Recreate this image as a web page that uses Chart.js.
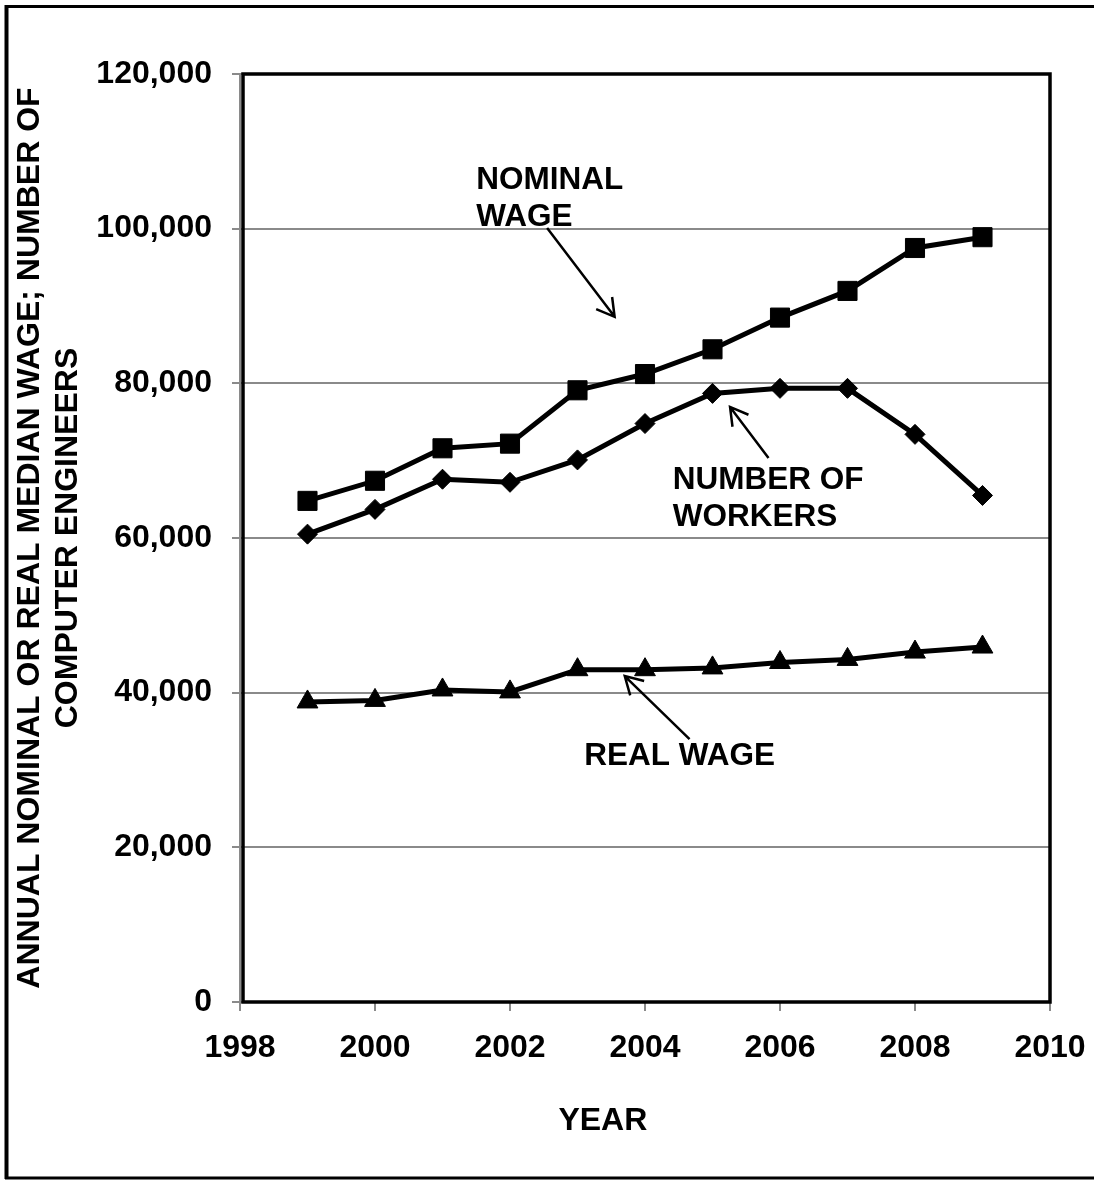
<!DOCTYPE html>
<html>
<head>
<meta charset="utf-8">
<script src="https://cdn.jsdelivr.net/npm/chart.js@4.4.0/dist/chart.umd.min.js"></script>
<style>
  html, body { margin: 0; padding: 0; background: #fff; }
  canvas { display: block; }
</style>
</head>
<body>
<canvas id="myChart" width="1094" height="1180"></canvas>
<script>
// Datos
const years = [1999, 2000, 2001, 2002, 2003, 2004, 2005, 2006, 2007, 2008, 2009];
const nominalWage = [64800, 67400, 71600, 72200, 79100, 81200, 84400, 88500, 91950, 97500, 98900];
const numberOfWorkers = [60500, 63700, 67600, 67200, 70100, 74800, 78700, 79350, 79350, 73400, 65500];
const realWage = [38800, 39000, 40350, 40100, 42970, 42970, 43200, 43900, 44300, 45250, 45900];

const yTitle = ['ANNUAL NOMINAL OR REAL MEDIAN WAGE; NUMBER OF', 'COMPUTER ENGINEERS'];
const xTitle = 'YEAR';
const seriesNames = ['NOMINAL WAGE', 'NUMBER OF WORKERS', 'REAL WAGE'];

const FONT = "'Liberation Sans', Arial, Helvetica, sans-serif";
const GRID = '#8a8a8a';

// Función para armar una serie (línea negra con marcadores)
function serie(label, values, style, radius) {
  return {
    label: label,
    data: years.map((y, i) => ({ x: y, y: values[i] })),
    borderColor: '#000',
    backgroundColor: '#000',
    borderWidth: 5,
    pointStyle: style,
    pointRadius: radius,
    pointHoverRadius: radius,
    pointBorderWidth: 1,
    tension: 0
  };
}

// Flechas con punta abierta
function drawArrow(ctx, x1, y1, x2, y2) {
  const ang = Math.atan2(y2 - y1, x2 - x1);
  const head = 20;
  ctx.beginPath();
  ctx.moveTo(x1, y1);
  ctx.lineTo(x2, y2);
  ctx.moveTo(x2 - head * Math.cos(ang - Math.PI / 6), y2 - head * Math.sin(ang - Math.PI / 6));
  ctx.lineTo(x2, y2);
  ctx.lineTo(x2 - head * Math.cos(ang + Math.PI / 6), y2 - head * Math.sin(ang + Math.PI / 6));
  ctx.stroke();
}

// Marco exterior, borde del área y anotaciones
const decoPlugin = {
  id: 'deco',
  beforeDraw(chart) {
    const ctx = chart.ctx;
    ctx.save();
    ctx.fillStyle = '#fff';
    ctx.fillRect(0, 0, chart.width, chart.height);
    ctx.strokeStyle = '#000';
    ctx.lineWidth = 4;
    ctx.beginPath();
    ctx.moveTo(6.5, 5);
    ctx.lineTo(6.5, 1179);
    ctx.stroke();
    ctx.lineWidth = 3;
    ctx.beginPath();
    ctx.moveTo(5, 6.5);
    ctx.lineTo(chart.width, 6.5);
    ctx.moveTo(5, 1178);
    ctx.lineTo(chart.width, 1178);
    ctx.stroke();
    ctx.restore();
  },
  beforeDatasetsDraw(chart) {
    const { ctx, chartArea: a } = chart;
    ctx.save();
    ctx.strokeStyle = '#000';
    ctx.lineWidth = 3.5;
    ctx.strokeRect(a.left + 3, a.top, a.right - a.left - 3, a.bottom - a.top);
    ctx.restore();
  },
  afterDraw(chart) {
    const { ctx, chartArea: a } = chart;
    const xs = chart.scales.x, ys = chart.scales.y;
    const px = v => xs.getPixelForValue(v);
    const py = v => ys.getPixelForValue(v);
    const notes = [
      { lines: ['NOMINAL', 'WAGE'], at: [2001.5, 106300], from: [2002.55, 100100], to: [2003.55, 88600] },
      { lines: ['NUMBER OF', 'WORKERS'], at: [2004.41, 67400], from: [2005.83, 70350], to: [2005.26, 76950] },
      { lines: ['REAL WAGE'], at: [2003.1, 31800], from: [2004.66, 34000], to: [2003.7, 42150] }
    ];
    ctx.save();
    ctx.fillStyle = '#000';
    ctx.strokeStyle = '#000';
    ctx.font = 'bold 31.5px ' + FONT;
    ctx.textAlign = 'left';
    ctx.textBaseline = 'middle';
    ctx.lineWidth = 2.5;
    notes.forEach(n => {
      n.lines.forEach((t, i) => ctx.fillText(t, px(n.at[0]), py(n.at[1]) + i * 37));
      drawArrow(ctx, px(n.from[0]), py(n.from[1]), px(n.to[0]), py(n.to[1]));
    });
    // Título del eje X
    ctx.font = 'bold 32px ' + FONT;
    ctx.textAlign = 'center';
    ctx.fillText(xTitle, a.left + 0.448 * (a.right - a.left), 1121);
    ctx.restore();
  }
};

const ctx = document.getElementById('myChart').getContext('2d');
new Chart(ctx, {
  type: 'line',
  data: {
    datasets: [
      serie(seriesNames[0], nominalWage, 'rect', 13.5),
      serie(seriesNames[1], numberOfWorkers, 'rectRot', 10),
      serie(seriesNames[2], realWage, 'triangle', 12)
    ]
  },
  options: {
    responsive: false,
    animation: false,
    events: [],
    layout: { padding: { top: 74, right: 44, bottom: 0, left: 0 } },
    plugins: {
      legend: { display: false },
      tooltip: { enabled: false }
    },
    scales: {
      x: {
        type: 'linear',
        min: 1998,
        max: 2010,
        afterFit(scale) {
          scale.height = 178;
          scale.paddingLeft = 0;
          scale.paddingRight = 0;
        },
        ticks: {
          stepSize: 2,
          color: '#000',
          padding: 18,
          font: { family: FONT, size: 32, weight: 'bold' },
          callback: v => String(v)
        },
        grid: { drawOnChartArea: false, drawTicks: true, tickLength: 9, color: GRID, lineWidth: 2 },
        border: { display: true, color: GRID, width: 2 }
      },
      y: {
        min: 0,
        max: 120000,
        afterFit(scale) {
          scale.width = 240;
          scale.paddingTop = 0;
          scale.paddingBottom = 0;
        },
        ticks: {
          stepSize: 20000,
          color: '#000',
          padding: 20,
          font: { family: FONT, size: 32, weight: 'bold' },
          callback: v => v.toLocaleString('en-US')
        },
        grid: { color: GRID, lineWidth: 2, tickLength: 8 },
        border: { display: true, color: GRID, width: 2 },
        title: {
          display: true,
          text: yTitle,
          color: '#000',
          padding: { top: 11, bottom: 0 },
          font: { family: FONT, size: 32, weight: 'bold', lineHeight: 1.2 }
        }
      }
    }
  },
  plugins: [decoPlugin]
});
</script>
</body>
</html>
